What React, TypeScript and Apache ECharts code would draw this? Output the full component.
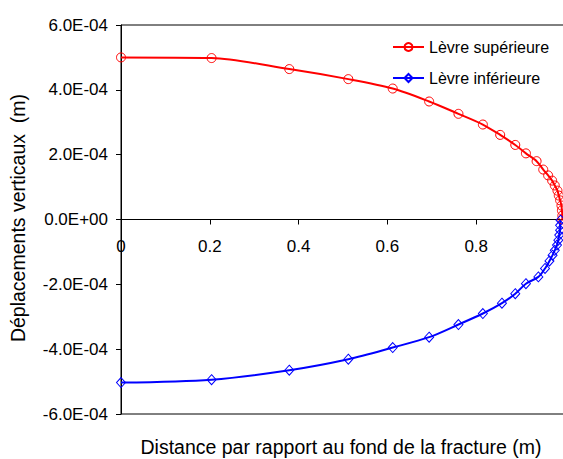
import React, { useEffect, useRef } from "react";
import * as echarts from "echarts";

// Upper crack lip (x in m, vertical displacement in m)
const upperX = [0, 0.204, 0.379, 0.512, 0.612, 0.694, 0.76, 0.815, 0.854, 0.888, 0.912, 0.936, 0.951, 0.962, 0.971, 0.977, 0.983, 0.986, 0.989, 0.992, 0.993, 0.994, 0.994];
const upperY = [5.0e-4, 4.98e-4, 4.64e-4, 4.33e-4, 4.04e-4, 3.64e-4, 3.26e-4, 2.93e-4, 2.61e-4, 2.3e-4, 2.04e-4, 1.8e-4, 1.54e-4, 1.36e-4, 1.2e-4, 1.05e-4, 0.89e-4, 0.74e-4, 0.59e-4, 0.43e-4, 0.28e-4, 0.12e-4, 0];

// Lower crack lip
const lowerX = [0, 0.204, 0.379, 0.512, 0.612, 0.694, 0.76, 0.815, 0.858, 0.888, 0.912, 0.94, 0.955, 0.965, 0.972, 0.977, 0.982, 0.985, 0.987, 0.989, 0.989, 0.99];
const lowerY = [-5.03e-4, -4.94e-4, -4.65e-4, -4.31e-4, -3.95e-4, -3.63e-4, -3.24e-4, -2.9e-4, -2.58e-4, -2.29e-4, -1.98e-4, -1.77e-4, -1.51e-4, -1.28e-4, -1.1e-4, -0.95e-4, -0.79e-4, -0.64e-4, -0.48e-4, -0.33e-4, -0.18e-4, -0.02e-4];

const seriesNames = ["Lèvre supérieure", "Lèvre inférieure"];
const xTitle = "Distance par rapport au fond de la fracture (m)";
const yTitle = "Déplacements verticaux  (m)";

const FONT = "'Liberation Sans', Arial, sans-serif";

const GRID_TOP = 25;
const GRID_H = 389;

function sci(v: number): string {
  if (Math.abs(v) < 1e-12) return "0.0E+00";
  const [m, e] = v.toExponential(1).split("e");
  const n = parseInt(e, 10);
  return m + "E" + (n < 0 ? "-" : "+") + String(Math.abs(n)).padStart(2, "0");
}

const zip = (xs: number[], ys: number[]) => xs.map((x, i) => [x, ys[i]]);

export default function App() {
  const ref = useRef<HTMLDivElement>(null);

  useEffect(() => {
    if (!ref.current) return;
    const chart = echarts.init(ref.current, undefined, { renderer: "svg" });
    chart.setOption({
      animation: false,
      backgroundColor: "#ffffff",
      textStyle: { fontFamily: FONT },
      grid: {
        left: 121,
        top: GRID_TOP,
        width: 444,
        height: GRID_H,
        show: true,
        borderColor: "#000",
        borderWidth: 1,
        backgroundColor: "transparent",
        containLabel: false,
        outerBoundsMode: "none",
      },
      legend: {
        orient: "vertical",
        left: 387,
        top: 33,
        itemWidth: 31,
        itemHeight: 10,
        itemGap: 13,
        textStyle: { fontFamily: FONT, fontSize: 16, color: "#000", lineHeight: 18 },
        data: seriesNames,
      },
      xAxis: {
        type: "value",
        min: 0,
        max: 1,
        interval: 0.2,
        position: "bottom",
        // horizontal axis sits on y = 0, half-way up the plot
        offset: -GRID_H / 2,
        axisLine: { onZero: false, lineStyle: { color: "#000", width: 1 } },
        axisTick: { show: true, inside: false, length: 5, lineStyle: { color: "#000" } },
        splitLine: { show: false },
        axisLabel: {
          margin: 18,
          fontFamily: FONT,
          fontSize: 17,
          color: "#000",
          formatter: (v: number) => (v > 0.95 ? "" : v === 0 ? "0" : v.toFixed(1)),
        },
      },
      yAxis: {
        type: "value",
        min: -6e-4,
        max: 6e-4,
        interval: 2e-4,
        axisLine: { onZero: false, lineStyle: { color: "#000", width: 1 } },
        axisTick: { show: true, inside: false, length: 5, lineStyle: { color: "#000" } },
        splitLine: { show: false },
        axisLabel: {
          margin: 13,
          fontFamily: FONT,
          fontSize: 17,
          color: "#000",
          formatter: sci,
        },
      },
      graphic: [
        {
          type: "text",
          x: 341,
          y: 447,
          style: {
            text: xTitle,
            fontFamily: FONT,
            fontSize: 19.5,
            fill: "#000",
            textAlign: "center",
            textVerticalAlign: "middle",
          },
        },
        {
          type: "text",
          x: 18,
          y: 218,
          rotation: Math.PI / 2,
          style: {
            text: yTitle,
            fontFamily: FONT,
            fontSize: 19.5,
            fill: "#000",
            textAlign: "center",
            textVerticalAlign: "middle",
          },
        },
      ],
      series: [
        {
          name: seriesNames[0],
          type: "line",
          data: zip(upperX, upperY),
          smooth: 0.3,
          symbol: "circle",
          symbolSize: 9,
          showAllSymbol: true,
          lineStyle: { color: "#ff0000", width: 2 },
          itemStyle: { color: "rgba(255,255,255,0)", borderColor: "#ff0000", borderWidth: 1 },
        },
        {
          name: seriesNames[1],
          type: "line",
          data: zip(lowerX, lowerY),
          smooth: 0.3,
          symbol: "diamond",
          symbolSize: [9, 10],
          showAllSymbol: true,
          lineStyle: { color: "#0000ff", width: 2 },
          itemStyle: { color: "rgba(255,255,255,0)", borderColor: "#0000ff", borderWidth: 1 },
        },
      ],
    });
    return () => chart.dispose();
  }, []);

  return (
    <div
      ref={ref}
      style={{ position: "absolute", left: 0, top: 0, width: 563, height: 459 }}
    />
  );
}
